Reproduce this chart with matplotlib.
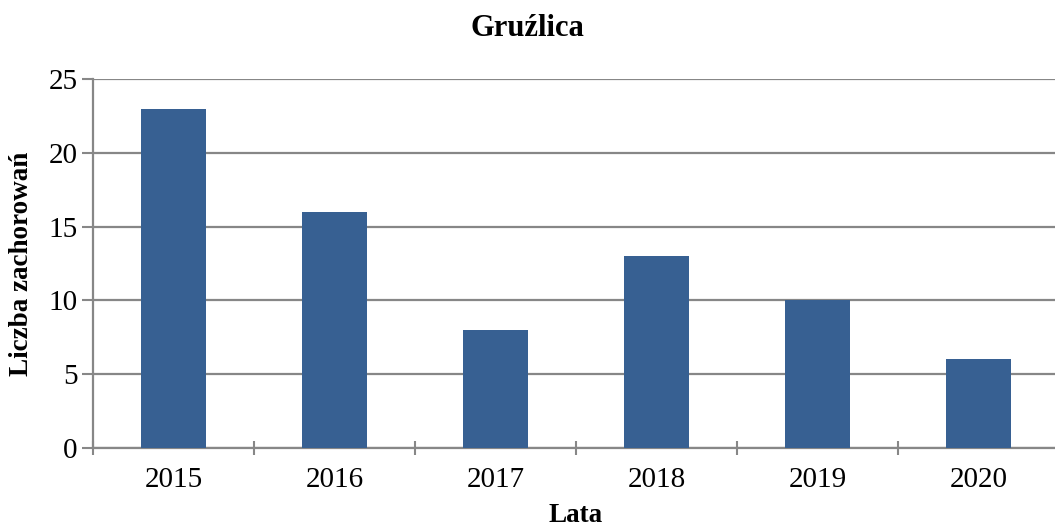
import matplotlib
matplotlib.use("Agg")
import matplotlib.pyplot as plt
import numpy as np

years = ["2015", "2016", "2017", "2018", "2019", "2020"]
cases = [23, 16, 8, 13, 10, 6]
title = "Gruźlica"
xlabel = "Lata"
ylabel = "Liczba zachorowań"

plt.rcParams['font.family'] = ['Liberation Serif', 'DejaVu Serif']

W, H = 1055, 527
fig = plt.figure(figsize=(W / 100, H / 100), dpi=100)
left, right, top, bottom = 93, 1059, 79, 448
ax = fig.add_axes([left / W, 1 - bottom / H, (right - left) / W, (bottom - top) / H])

grey = "#878787"
x = np.arange(len(years))
ax.bar(x, cases, width=0.40, color="#376092", zorder=3)
ax.set_xlim(-0.5, len(years) - 0.5)
ax.set_ylim(0, 25)
ax.set_yticks(range(0, 26, 5))
ax.yaxis.grid(True, color=grey, linewidth=1.6, zorder=0)
ax.set_axisbelow(True)

ax.set_xticks(x)
ax.set_xticklabels(years, fontsize=21)
ax.tick_params(axis='x', which='major', length=0, pad=14)
ax.set_xticks(np.arange(-0.5, len(years), 1.0), minor=True)
ax.tick_params(axis='x', which='minor', length=10, direction='inout', color=grey, width=1.5)
ax.tick_params(axis='y', length=8, direction='out', color=grey, width=1.5, labelsize=21, pad=3)

for s in ["top", "right"]:
    ax.spines[s].set_visible(False)
for s in ["left", "bottom"]:
    ax.spines[s].set_color(grey)
    ax.spines[s].set_linewidth(1.6)

ax.set_xlabel(xlabel, fontsize=19.5, fontweight='bold')
ax.xaxis.label.set_va('center')
ax.xaxis.set_label_coords(0.5, (bottom - 516) / (bottom - top))
ax.set_ylabel(ylabel, fontsize=19.5, fontweight='bold')
ax.yaxis.label.set_va('center')
ax.yaxis.set_label_coords((22 - left) / (right - left), 0.5)
fig.text(0.5, 1 - 28 / H, title, ha='center', va='center', fontsize=22, fontweight='bold')

fig.savefig("out.png", dpi=100)
